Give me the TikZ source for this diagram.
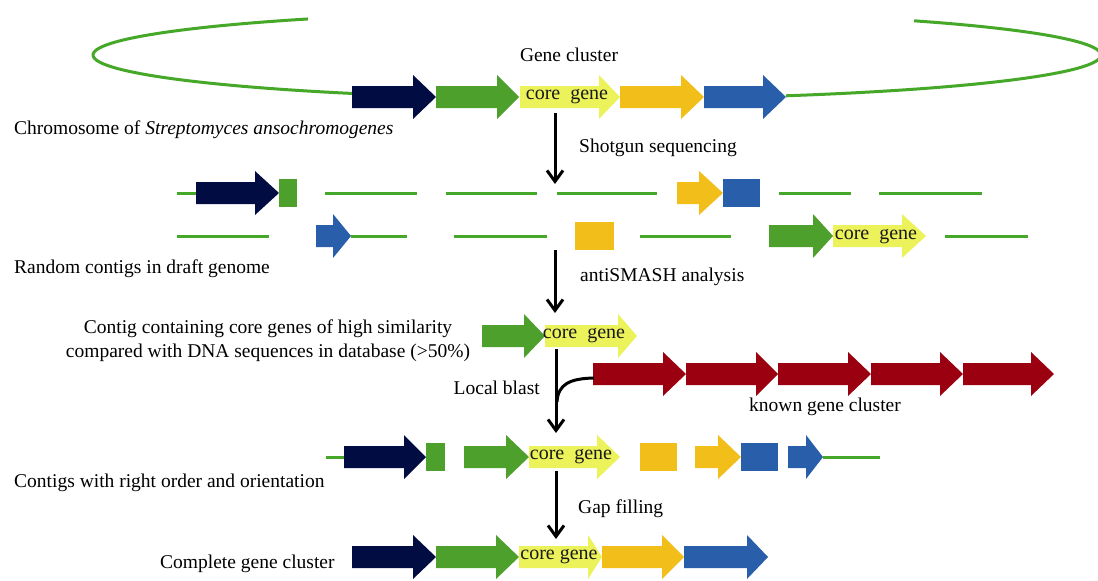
\documentclass[tikz,border=0pt]{standalone}
\usepackage{fontspec}
\setmainfont{Liberation Serif}
\usetikzlibrary{arrows.meta}
\definecolor{gnavy}{RGB}{0,12,66}
\definecolor{ggreen}{RGB}{78,160,44}
\definecolor{gcore}{RGB}{236,242,90}
\definecolor{gorange}{RGB}{242,190,26}
\definecolor{gblue}{RGB}{40,94,170}
\definecolor{gred}{RGB}{155,0,16}
\definecolor{gline}{RGB}{70,168,40}
% gene arrow: x1, head start, tip, y centre, colour
\newcommand\genearr[5]{\fill[#5] (#1,#4-11) -- (#2,#4-11) -- (#2,#4-22) -- (#3,#4) -- (#2,#4+22) -- (#2,#4+11) -- (#1,#4+11) -- cycle;}
% gene block: x1, x2, y centre, colour
\newcommand\geneblk[4]{\fill[#4] (#1,#3-14) rectangle (#2,#3+14);}
\tikzset{
  lbl/.style={font=\fontsize{19.5}{24}\selectfont, inner sep=0pt},
  coretxt/.style={font=\fontsize{20}{22}\selectfont, inner sep=0pt, text=black!90},
  contig/.style={draw=gline, line width=3pt},
  flow/.style={draw=black, line width=3pt, -{Straight Barb[length=11pt,width=16pt,line width=3pt]}},
}
\begin{document}
\begin{tikzpicture}[x=1pt,y=-1pt]
\useasboundingbox (0,0) rectangle (1098,581);
\fill[white] (0,0) rectangle (1098,581);

% chromosome
\draw[contig] plot[domain=125:241,samples=90] ({597+504*cos(\x)},{55-44*sin(\x)});
\draw[contig] plot[domain=292:411,samples=90] ({597+504*cos(\x)},{55-44*sin(\x)});

% row 1 : gene cluster
\genearr{352}{413}{436}{97}{gnavy}
\genearr{436}{497}{519}{97}{ggreen}
\genearr{520}{599}{620}{97}{gcore}
\genearr{620}{681}{704}{97}{gorange}
\genearr{704}{763}{786}{97}{gblue}
\node[coretxt] (core1) at (567,97) {core\ \ gene};
\node[lbl] (gc) at (569,55) {Gene cluster};
\node[lbl, anchor=west] (chrom) at (14,130) {Chromosome of \textit{Streptomyces ansochromogenes}};

% row 2a
\draw[contig] (177,193) -- (196,193);
\genearr{196}{255}{279}{193}{gnavy}
\geneblk{279}{297}{193}{ggreen}
\draw[contig] (325,193) -- (417,193);
\draw[contig] (446,193) -- (537,193);
\draw[contig] (557,193) -- (657,193);
\genearr{677}{699}{723}{193}{gorange}
\geneblk{723}{760}{193}{gblue}
\draw[contig] (779,193) -- (851,193);
\draw[contig] (879,193) -- (982,193);

% row 2b
\draw[contig] (177,236) -- (269,236);
\genearr{316}{333}{351}{236}{gblue}
\draw[contig] (351,236) -- (407,236);
\draw[contig] (454,236) -- (547,236);
\geneblk{575}{614}{236}{gorange}
\draw[contig] (640,236) -- (731,236);
\genearr{769}{813}{833}{236}{ggreen}
\genearr{833}{902}{926}{236}{gcore}
\node[coretxt] (core2) at (876,237) {core\ \ gene};
\draw[contig] (945,236) -- (1028,236);
\node[lbl, anchor=west] (rand) at (14,269) {Random contigs in draft genome};

% row 3
\genearr{482}{524}{545}{336}{ggreen}
\genearr{545}{618}{637}{336}{gcore}
\node[coretxt] (core3) at (584,336) {core\ \ gene};
\node[lbl, align=center] (contigtxt) at (268,341) {Contig containing core genes of high similarity\\compared with DNA sequences in database (>50\%)};

% known gene cluster
\genearr{593}{663}{686}{374}{gred}
\genearr{686}{756}{778}{374}{gred}
\genearr{778}{848}{871}{374}{gred}
\genearr{871}{940}{963}{374}{gred}
\genearr{963}{1031}{1054}{374}{gred}
\node[lbl, anchor=west] (known) at (749,407) {known gene cluster};
\node[lbl, anchor=east] (blast) at (540,388) {Local blast};

% row 4
\draw[contig] (326,457) -- (344,457);
\genearr{344}{404}{426}{457}{gnavy}
\geneblk{426}{445}{457}{ggreen}
\genearr{464}{506}{529}{457}{ggreen}
\genearr{529}{597}{620}{457}{gcore}
\node[coretxt] (core4) at (571,457) {core\ \ gene};
\geneblk{640}{677}{457}{gorange}
\genearr{695}{718}{741}{457}{gorange}
\geneblk{741}{778}{457}{gblue}
\genearr{788}{806}{823}{457}{gblue}
\draw[contig] (823,457) -- (880,457);
\node[lbl, anchor=west] (order) at (14,483) {Contigs with right order and orientation};

% row 5
\genearr{352}{413}{436}{557}{gnavy}
\genearr{436}{496}{519}{557}{ggreen}
\genearr{519}{588}{602}{557}{gcore}
\node[coretxt] (core5) at (559,557) {core gene};
\genearr{602}{662}{684}{557}{gorange}
\genearr{684}{747}{768}{557}{gblue}
\node[lbl, anchor=west] (complete) at (160,564) {Complete gene cluster};

% flow arrows
\coordinate (a1s) at (555,113);
\coordinate (a1e) at (555,184);
\coordinate (a2s) at (555,250);
\coordinate (a2e) at (555,313);
\coordinate (a3s) at (556,349);
\coordinate (a3e) at (556,433);
\coordinate (bs) at (594,378);
\coordinate (bm) at (557,402);
\coordinate (a4s) at (556,471);
\coordinate (a4e) at (556,539);
\draw[flow] (a1s) -- (a1e);
\draw[flow] (a2s) -- (a2e);
\draw[flow] (a3s) -- (a3e);
\draw[line width=3pt] (bs) .. controls (570,378.5) and (558,384) .. (bm);
\draw[flow] (a4s) -- (a4e);
\node[lbl, anchor=west] (shot) at (579,148) {Shotgun sequencing};
\node[lbl, anchor=west] (anti) at (580,277) {antiSMASH analysis};
\node[lbl, anchor=west] (gap) at (578,509) {Gap filling};
\end{tikzpicture}
\end{document}
